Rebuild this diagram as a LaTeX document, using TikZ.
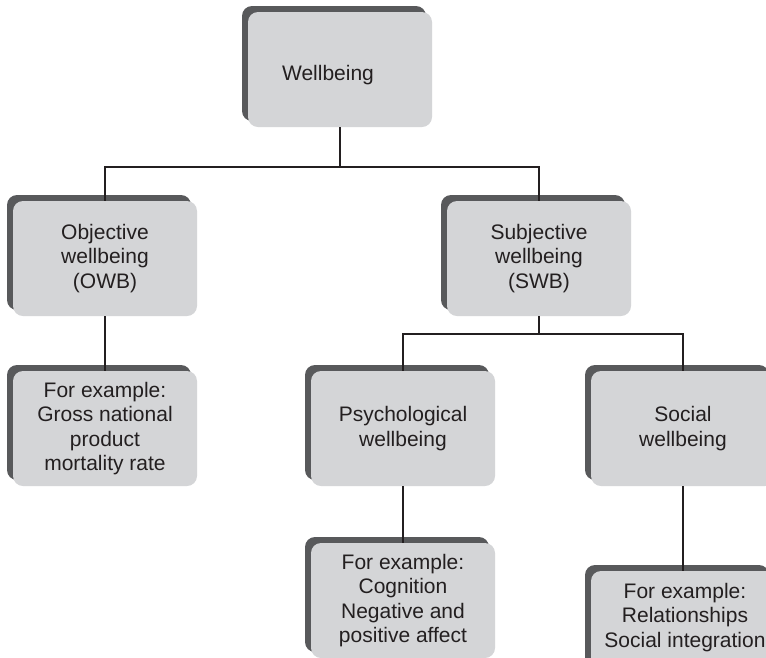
\documentclass[tikz,border=0pt]{standalone}
\usepackage{fontspec}
\setmainfont{Liberation Sans}
\usetikzlibrary{shadows}

\definecolor{boxfill}{HTML}{D4D5D7}
\definecolor{boxshade}{HTML}{58595B}
\definecolor{inkcol}{HTML}{231F20}

\tikzset{
  every node/.style={font=\fontsize{21}{24.5}\selectfont, text=inkcol},
  catbox/.style={
    rectangle, rounded corners=10pt, fill=boxfill,
    minimum width=184pt, minimum height=115pt, inner sep=0pt,
    align=center,
    drop shadow={shadow xshift=-6pt, shadow yshift=6pt,
                 fill=boxshade, opacity=1}
  },
  link/.style={draw=inkcol, line width=1.6pt}
}

\begin{document}
\begin{tikzpicture}[x=1pt, y=-1pt]
  \useasboundingbox (0,0) rectangle (766,657);
  \clip (0,0) rectangle (766,657);
  \fill[white] (0,0) rectangle (766,657);

  % category boxes
  \node[catbox, label={[xshift=-12pt, yshift=-6pt]center:Wellbeing}] (wb) at (340,69.5) {};
  \node[catbox] (owb) at (105,258.5) {Objective\\wellbeing\\(OWB)};
  \node[catbox] (swb) at (539,258.5) {Subjective\\wellbeing\\(SWB)};
  \node[catbox] (owbex) at (105,428.5) {For example:\\Gross national\\product\\mortality rate};
  \node[catbox] (psy) at (403,428.5) {Psychological\\wellbeing};
  \node[catbox] (soc) at (683,428.5) {Social\\wellbeing};
  \node[catbox] (psyex) at (403,600.5) {For example:\\Cognition\\Negative and\\positive affect};
  \node[catbox, label={[xshift=2pt, yshift=11pt, align=center]center:For example:\\Relationships\\Social integration}] (socex) at (683,628.5) {};

  % junction points of the tree
  \coordinate (j1) at (340,167);
  \coordinate (j2) at (539,334);

  % connectors
  \draw[link] (wb.south) -- (j1);
  \draw[link] (owb.north) |- (j1) -| (swb.north);
  \draw[link] (swb.south) -- (j2);
  \draw[link] (psy.north) |- (j2) -| (soc.north);
  \draw[link] (owb.south) -- (owbex.north);
  \draw[link] (psy.south) -- (psyex.north);
  \draw[link] (soc.south) -- (socex.north);
\end{tikzpicture}
\end{document}
